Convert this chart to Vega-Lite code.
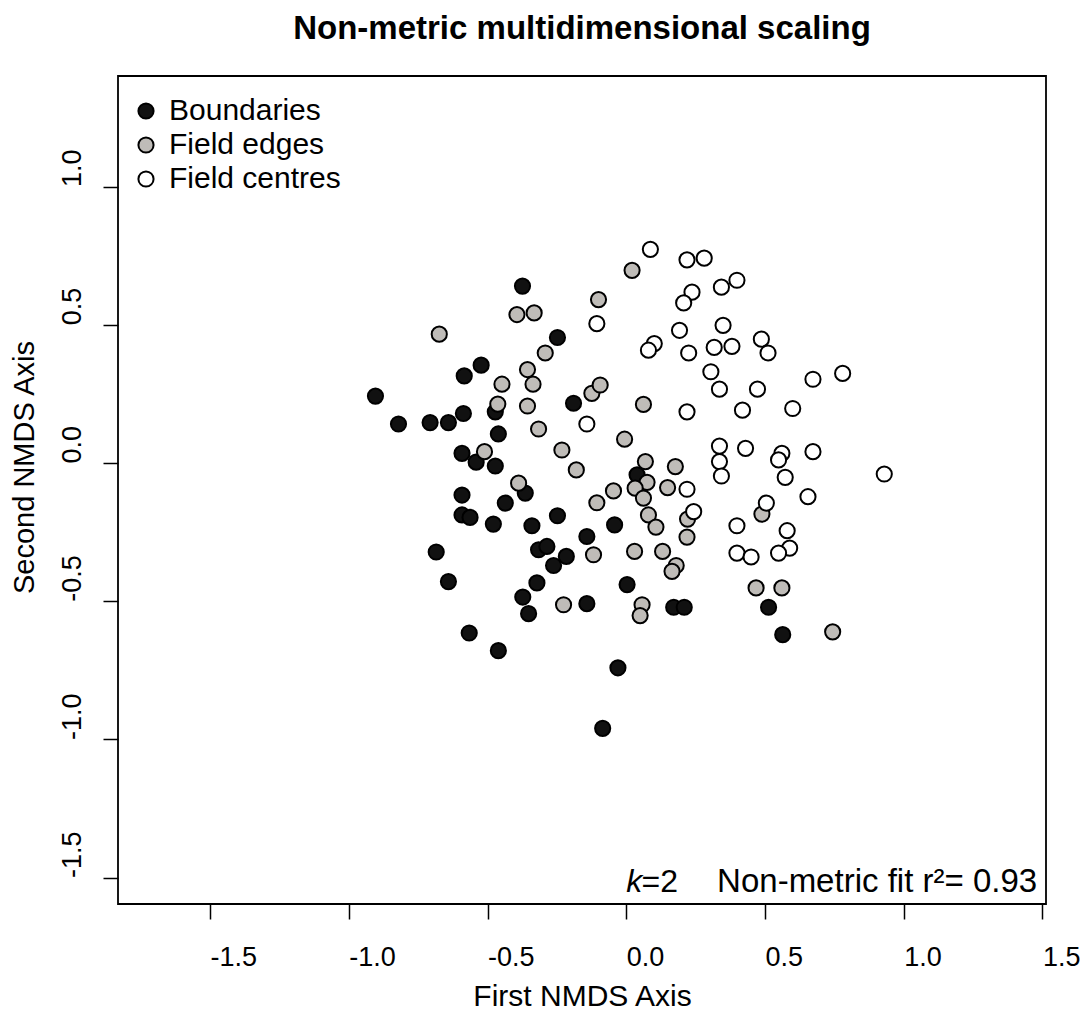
{
  "$schema": "https://vega.github.io/schema/vega-lite/v6.json",
  "autosize": {"type": "none"},
  "padding": {"left": 118, "top": 76, "right": 42, "bottom": 108},
  "width": 928,
  "height": 828,
  "background": "white",
  "title": {
    "text": "Non-metric multidimensional scaling",
    "font": "Liberation Sans",
    "fontSize": 33,
    "fontWeight": "bold",
    "color": "#000",
    "anchor": "middle",
    "baseline": "alphabetic",
    "offset": 4
  },
  "config": {
    "view": {"stroke": "#000", "strokeWidth": 1.8},
    "font": "Liberation Sans",
    "axis": {
      "grid": false,
      "domain": false,
      "ticks": true,
      "tickColor": "#000",
      "tickWidth": 1.5,
      "tickSize": 15,
      "labelFont": "Liberation Sans",
      "labelFontSize": 27,
      "labelColor": "#000",
      "titleFont": "Liberation Sans",
      "titleFontWeight": "normal",
      "titleColor": "#000"
    }
  },
  "datasets": {
    "scores": [
      {"group": "Boundaries", "nmds1": -0.904, "nmds2": 0.242},
      {"group": "Boundaries", "nmds1": -0.821, "nmds2": 0.141},
      {"group": "Boundaries", "nmds1": -0.707, "nmds2": 0.146},
      {"group": "Boundaries", "nmds1": -0.641, "nmds2": 0.146},
      {"group": "Boundaries", "nmds1": -0.584, "nmds2": 0.315},
      {"group": "Boundaries", "nmds1": -0.523, "nmds2": 0.354},
      {"group": "Boundaries", "nmds1": -0.587, "nmds2": 0.179},
      {"group": "Boundaries", "nmds1": -0.472, "nmds2": 0.185},
      {"group": "Boundaries", "nmds1": -0.461, "nmds2": 0.105},
      {"group": "Boundaries", "nmds1": -0.374, "nmds2": 0.640},
      {"group": "Boundaries", "nmds1": -0.248, "nmds2": 0.454},
      {"group": "Boundaries", "nmds1": -0.190, "nmds2": 0.216},
      {"group": "Boundaries", "nmds1": -0.592, "nmds2": 0.035},
      {"group": "Boundaries", "nmds1": -0.541, "nmds2": 0.003},
      {"group": "Boundaries", "nmds1": -0.472, "nmds2": -0.011},
      {"group": "Boundaries", "nmds1": -0.364, "nmds2": -0.109},
      {"group": "Boundaries", "nmds1": -0.592, "nmds2": -0.116},
      {"group": "Boundaries", "nmds1": -0.436, "nmds2": -0.145},
      {"group": "Boundaries", "nmds1": -0.592, "nmds2": -0.188},
      {"group": "Boundaries", "nmds1": -0.563, "nmds2": -0.197},
      {"group": "Boundaries", "nmds1": -0.479, "nmds2": -0.221},
      {"group": "Boundaries", "nmds1": -0.340, "nmds2": -0.227},
      {"group": "Boundaries", "nmds1": -0.248, "nmds2": -0.191},
      {"group": "Boundaries", "nmds1": -0.142, "nmds2": -0.266},
      {"group": "Boundaries", "nmds1": -0.316, "nmds2": -0.314},
      {"group": "Boundaries", "nmds1": -0.286, "nmds2": -0.302},
      {"group": "Boundaries", "nmds1": -0.262, "nmds2": -0.371},
      {"group": "Boundaries", "nmds1": -0.216, "nmds2": -0.338},
      {"group": "Boundaries", "nmds1": -0.685, "nmds2": -0.322},
      {"group": "Boundaries", "nmds1": -0.641, "nmds2": -0.429},
      {"group": "Boundaries", "nmds1": -0.322, "nmds2": -0.434},
      {"group": "Boundaries", "nmds1": -0.373, "nmds2": -0.485},
      {"group": "Boundaries", "nmds1": -0.352, "nmds2": -0.545},
      {"group": "Boundaries", "nmds1": -0.142, "nmds2": -0.509},
      {"group": "Boundaries", "nmds1": -0.566, "nmds2": -0.615},
      {"group": "Boundaries", "nmds1": -0.461, "nmds2": -0.679},
      {"group": "Boundaries", "nmds1": -0.030, "nmds2": -0.741},
      {"group": "Boundaries", "nmds1": -0.085, "nmds2": -0.960},
      {"group": "Boundaries", "nmds1": 0.039, "nmds2": -0.043},
      {"group": "Boundaries", "nmds1": -0.042, "nmds2": -0.224},
      {"group": "Boundaries", "nmds1": 0.003, "nmds2": -0.440},
      {"group": "Boundaries", "nmds1": 0.171, "nmds2": -0.522},
      {"group": "Boundaries", "nmds1": 0.209, "nmds2": -0.522},
      {"group": "Boundaries", "nmds1": 0.513, "nmds2": -0.522},
      {"group": "Boundaries", "nmds1": 0.564, "nmds2": -0.621},
      {"group": "Field edges", "nmds1": -0.394, "nmds2": 0.537},
      {"group": "Field edges", "nmds1": -0.332, "nmds2": 0.543},
      {"group": "Field edges", "nmds1": -0.674, "nmds2": 0.466},
      {"group": "Field edges", "nmds1": -0.292, "nmds2": 0.398},
      {"group": "Field edges", "nmds1": -0.100, "nmds2": 0.591},
      {"group": "Field edges", "nmds1": 0.021, "nmds2": 0.697},
      {"group": "Field edges", "nmds1": -0.448, "nmds2": 0.285},
      {"group": "Field edges", "nmds1": -0.356, "nmds2": 0.338},
      {"group": "Field edges", "nmds1": -0.336, "nmds2": 0.285},
      {"group": "Field edges", "nmds1": -0.124, "nmds2": 0.252},
      {"group": "Field edges", "nmds1": -0.094, "nmds2": 0.282},
      {"group": "Field edges", "nmds1": -0.463, "nmds2": 0.213},
      {"group": "Field edges", "nmds1": -0.356, "nmds2": 0.206},
      {"group": "Field edges", "nmds1": -0.316, "nmds2": 0.123},
      {"group": "Field edges", "nmds1": -0.511, "nmds2": 0.041},
      {"group": "Field edges", "nmds1": -0.388, "nmds2": -0.073},
      {"group": "Field edges", "nmds1": -0.232, "nmds2": 0.047},
      {"group": "Field edges", "nmds1": -0.180, "nmds2": -0.025},
      {"group": "Field edges", "nmds1": -0.106, "nmds2": -0.144},
      {"group": "Field edges", "nmds1": -0.118, "nmds2": -0.332},
      {"group": "Field edges", "nmds1": -0.226, "nmds2": -0.513},
      {"group": "Field edges", "nmds1": -0.006, "nmds2": 0.086},
      {"group": "Field edges", "nmds1": 0.069, "nmds2": 0.005},
      {"group": "Field edges", "nmds1": 0.075, "nmds2": -0.070},
      {"group": "Field edges", "nmds1": 0.032, "nmds2": -0.091},
      {"group": "Field edges", "nmds1": 0.062, "nmds2": -0.127},
      {"group": "Field edges", "nmds1": 0.177, "nmds2": -0.013},
      {"group": "Field edges", "nmds1": 0.149, "nmds2": -0.089},
      {"group": "Field edges", "nmds1": -0.046, "nmds2": -0.101},
      {"group": "Field edges", "nmds1": 0.080, "nmds2": -0.188},
      {"group": "Field edges", "nmds1": 0.107, "nmds2": -0.232},
      {"group": "Field edges", "nmds1": 0.221, "nmds2": -0.203},
      {"group": "Field edges", "nmds1": 0.219, "nmds2": -0.268},
      {"group": "Field edges", "nmds1": 0.030, "nmds2": -0.320},
      {"group": "Field edges", "nmds1": 0.131, "nmds2": -0.320},
      {"group": "Field edges", "nmds1": 0.180, "nmds2": -0.371},
      {"group": "Field edges", "nmds1": 0.165, "nmds2": -0.392},
      {"group": "Field edges", "nmds1": 0.057, "nmds2": -0.513},
      {"group": "Field edges", "nmds1": 0.050, "nmds2": -0.552},
      {"group": "Field edges", "nmds1": 0.062, "nmds2": 0.212},
      {"group": "Field edges", "nmds1": 0.489, "nmds2": -0.185},
      {"group": "Field edges", "nmds1": 0.468, "nmds2": -0.452},
      {"group": "Field edges", "nmds1": 0.561, "nmds2": -0.452},
      {"group": "Field edges", "nmds1": 0.744, "nmds2": -0.611},
      {"group": "Field centres", "nmds1": -0.106, "nmds2": 0.504},
      {"group": "Field centres", "nmds1": -0.142, "nmds2": 0.141},
      {"group": "Field centres", "nmds1": 0.087, "nmds2": 0.773},
      {"group": "Field centres", "nmds1": 0.219, "nmds2": 0.735},
      {"group": "Field centres", "nmds1": 0.281, "nmds2": 0.741},
      {"group": "Field centres", "nmds1": 0.237, "nmds2": 0.618},
      {"group": "Field centres", "nmds1": 0.207, "nmds2": 0.579},
      {"group": "Field centres", "nmds1": 0.343, "nmds2": 0.636},
      {"group": "Field centres", "nmds1": 0.399, "nmds2": 0.661},
      {"group": "Field centres", "nmds1": 0.192, "nmds2": 0.480},
      {"group": "Field centres", "nmds1": 0.349, "nmds2": 0.498},
      {"group": "Field centres", "nmds1": 0.101, "nmds2": 0.432},
      {"group": "Field centres", "nmds1": 0.080, "nmds2": 0.408},
      {"group": "Field centres", "nmds1": 0.225, "nmds2": 0.398},
      {"group": "Field centres", "nmds1": 0.317, "nmds2": 0.418},
      {"group": "Field centres", "nmds1": 0.381, "nmds2": 0.422},
      {"group": "Field centres", "nmds1": 0.487, "nmds2": 0.448},
      {"group": "Field centres", "nmds1": 0.511, "nmds2": 0.398},
      {"group": "Field centres", "nmds1": 0.305, "nmds2": 0.330},
      {"group": "Field centres", "nmds1": 0.336, "nmds2": 0.267},
      {"group": "Field centres", "nmds1": 0.473, "nmds2": 0.267},
      {"group": "Field centres", "nmds1": 0.673, "nmds2": 0.303},
      {"group": "Field centres", "nmds1": 0.780, "nmds2": 0.324},
      {"group": "Field centres", "nmds1": 0.219, "nmds2": 0.185},
      {"group": "Field centres", "nmds1": 0.419, "nmds2": 0.191},
      {"group": "Field centres", "nmds1": 0.600, "nmds2": 0.197},
      {"group": "Field centres", "nmds1": 0.219, "nmds2": -0.095},
      {"group": "Field centres", "nmds1": 0.243, "nmds2": -0.176},
      {"group": "Field centres", "nmds1": 0.336, "nmds2": 0.061},
      {"group": "Field centres", "nmds1": 0.336, "nmds2": 0.005},
      {"group": "Field centres", "nmds1": 0.343, "nmds2": -0.047},
      {"group": "Field centres", "nmds1": 0.430, "nmds2": 0.053},
      {"group": "Field centres", "nmds1": 0.561, "nmds2": 0.035},
      {"group": "Field centres", "nmds1": 0.549, "nmds2": 0.011},
      {"group": "Field centres", "nmds1": 0.673, "nmds2": 0.041},
      {"group": "Field centres", "nmds1": 0.573, "nmds2": -0.052},
      {"group": "Field centres", "nmds1": 0.930, "nmds2": -0.040},
      {"group": "Field centres", "nmds1": 0.655, "nmds2": -0.122},
      {"group": "Field centres", "nmds1": 0.505, "nmds2": -0.145},
      {"group": "Field centres", "nmds1": 0.399, "nmds2": -0.227},
      {"group": "Field centres", "nmds1": 0.580, "nmds2": -0.245},
      {"group": "Field centres", "nmds1": 0.589, "nmds2": -0.308},
      {"group": "Field centres", "nmds1": 0.399, "nmds2": -0.326},
      {"group": "Field centres", "nmds1": 0.450, "nmds2": -0.340},
      {"group": "Field centres", "nmds1": 0.549, "nmds2": -0.326}
    ]
  },
  "layer": [
    {
      "data": {"name": "scores"},
      "mark": {
        "type": "point",
        "shape": "circle",
        "filled": true,
        "opacity": 1,
        "size": 230,
        "stroke": "#000",
        "strokeWidth": 2
      },
      "encoding": {
        "x": {
          "field": "nmds1",
          "type": "quantitative",
          "scale": {"domain": [-1.832, 1.513], "nice": false, "zero": false},
          "axis": {
            "title": "First NMDS Axis",
            "titleFontSize": 30,
            "values": [-1.5, -1, -0.5, 0, 0.5, 1, 1.5],
            "labelExpr": "datum.value < 0 ? '-' + format(-datum.value, '.1f') : format(datum.value, '.1f')",
            "labelAlign": "left",
            "labelDx": 1,
            "labelBaseline": "alphabetic",
            "labelPadding": 46,
            "labelOverlap": false,
            "labelBound": false,
            "labelFlush": false,
            "titleBaseline": "alphabetic",
            "titleY": 101
          }
        },
        "y": {
          "field": "nmds2",
          "type": "quantitative",
          "scale": {"domain": [-1.5955, 1.4], "nice": false, "zero": false},
          "axis": {
            "title": "Second NMDS Axis",
            "titleFontSize": 29,
            "values": [-1.5, -1, -0.5, 0, 0.5, 1],
            "labelExpr": "datum.value < 0 ? '-' + format(-datum.value, '.1f') : format(datum.value, '.1f')",
            "labelAngle": -90,
            "labelAlign": "left",
            "labelDy": -1.5,
            "labelBaseline": "alphabetic",
            "labelPadding": 23,
            "labelOverlap": false,
            "labelBound": false,
            "labelFlush": false,
            "titleAngle": -90,
            "titleBaseline": "alphabetic",
            "titleAlign": "center",
            "titleX": -85,
            "titleY": 391
          }
        },
        "fill": {
          "field": "group",
          "type": "nominal",
          "sort": null,
          "scale": {
            "domain": ["Boundaries", "Field edges", "Field centres"],
            "range": ["#111111", "#bfbcb8", "#ffffff"]
          },
          "legend": {
            "title": null,
            "orient": "none",
            "legendX": 13,
            "legendY": 20,
            "direction": "vertical",
            "padding": 0,
            "symbolType": "circle",
            "symbolSize": 230,
            "symbolStrokeColor": "#000",
            "symbolStrokeWidth": 2,
            "symbolOpacity": 1,
            "labelFont": "Liberation Sans",
            "labelFontSize": 30,
            "labelColor": "#000",
            "labelLimit": 0,
            "labelOffset": 8,
            "rowPadding": 4
          }
        }
      }
    },
    {
      "data": {"values": [{"nmds1": 0.0, "nmds2": -1.553, "note": "k"}]},
      "mark": {"type": "text", "align": "left", "baseline": "alphabetic", "fontSize": 32, "fontStyle": "italic", "font": "Liberation Sans", "color": "#000"},
      "encoding": {
        "x": {"field": "nmds1", "type": "quantitative"},
        "y": {"field": "nmds2", "type": "quantitative"},
        "text": {"field": "note"}
      }
    },
    {
      "data": {"values": [{"nmds1": 0.055, "nmds2": -1.553, "note": "=2"}]},
      "mark": {"type": "text", "align": "left", "baseline": "alphabetic", "fontSize": 32, "font": "Liberation Sans", "color": "#000"},
      "encoding": {
        "x": {"field": "nmds1", "type": "quantitative"},
        "y": {"field": "nmds2", "type": "quantitative"},
        "text": {"field": "note"}
      }
    },
    {
      "data": {"values": [{"nmds1": 1.481, "nmds2": -1.553, "note": "Non-metric fit r²= 0.93"}]},
      "mark": {"type": "text", "align": "right", "baseline": "alphabetic", "fontSize": 33, "font": "Liberation Sans", "color": "#000"},
      "encoding": {
        "x": {"field": "nmds1", "type": "quantitative"},
        "y": {"field": "nmds2", "type": "quantitative"},
        "text": {"field": "note"}
      }
    }
  ]
}
